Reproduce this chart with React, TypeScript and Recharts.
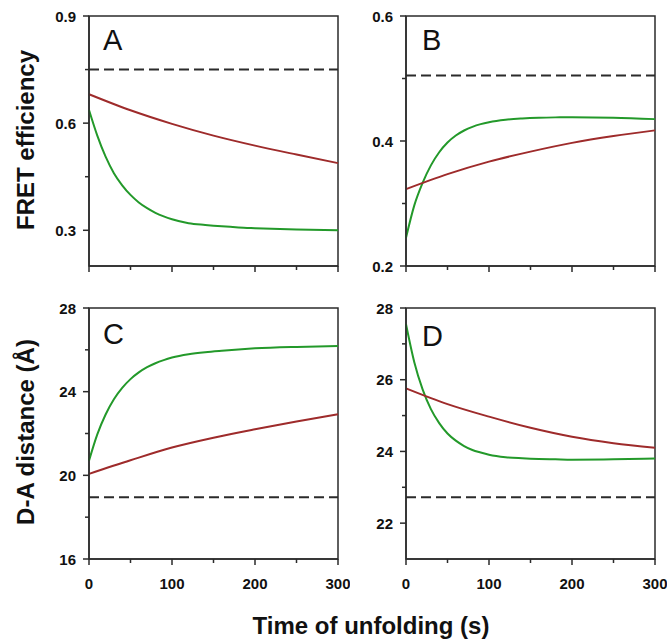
import React from 'react';
import { LineChart, Line, XAxis, YAxis, ReferenceLine, ReferenceArea } from 'recharts';

// sample times (s)
const fastTimes = [0, 10, 20, 30, 40, 50, 60, 70, 80, 90, 100, 120, 140, 160, 180, 200, 250, 300];
const slowTimes = [0, 50, 100, 150, 200, 250, 300];

// A: FRET efficiency
const greenA = [0.637, 0.565, 0.506, 0.46, 0.426, 0.399, 0.378, 0.362, 0.349, 0.339, 0.331, 0.32, 0.315, 0.311, 0.308, 0.306, 0.302, 0.3];
const redA = [0.681, 0.636, 0.598, 0.565, 0.537, 0.512, 0.488];
const dashA = 0.75;

// B: FRET efficiency
const greenB = [0.245, 0.297, 0.333, 0.361, 0.382, 0.3975, 0.4087, 0.4168, 0.4227, 0.427, 0.4301, 0.434, 0.436, 0.4372, 0.4378, 0.438, 0.4373, 0.435];
const redB = [0.323, 0.347, 0.367, 0.383, 0.397, 0.408, 0.417];
const dashB = 0.505;

// C: D-A distance
const greenC = [20.7, 21.96, 22.91, 23.64, 24.18, 24.6, 24.92, 25.17, 25.36, 25.51, 25.63, 25.79, 25.89, 25.96, 26.02, 26.07, 26.14, 26.18];
const redC = [20.07, 20.72, 21.33, 21.8, 22.2, 22.57, 22.92];
const dashC = 18.95;

// D: D-A distance
const greenD = [27.55, 26.49, 25.73, 25.18, 24.79, 24.5, 24.3, 24.15, 24.04, 23.97, 23.91, 23.84, 23.81, 23.79, 23.78, 23.77, 23.78, 23.8];
const redD = [25.76, 25.32, 24.97, 24.66, 24.41, 24.23, 24.1];
const dashD = 22.72;

const timeTicks = [0, 50, 100, 150, 200, 250, 300];
const timeLabels = [0, 100, 200, 300];

const ticksA = [0.3, 0.45, 0.6, 0.75, 0.9];
const labelsA = [0.3, 0.6, 0.9];
const ticksB = [0.2, 0.3, 0.4, 0.5, 0.6];
const labelsB = [0.2, 0.4, 0.6];
const ticksC = [16, 18, 20, 22, 24, 26, 28];
const labelsC = [16, 20, 24, 28];
const ticksD = [22, 23, 24, 25, 26, 27, 28];
const labelsD = [22, 24, 26, 28];

const FONT = '"Liberation Sans", Arial, sans-serif';
const AXIS = '#2b2b2b';
const GREEN = '#23992a';
const RED = '#9e2b2b';

const toPoints = (times: number[], values: number[]) => times.map((t, i) => ({ t, v: values[i] }));

function TimeTick(props: any) {
  const { x, y, payload, show } = props;
  const major = timeLabels.includes(payload.value);
  return (
    <g>
      <line x1={x} y1={y} x2={x} y2={y + (major ? 6 : 4)} stroke={AXIS} strokeWidth={1.5} />
      {show && major && (
        <text x={x} y={y + 30} textAnchor="middle" fontSize={15} fontWeight="bold" fontFamily={FONT} fill="#111">
          {payload.value}
        </text>
      )}
    </g>
  );
}

function ValueTick(props: any) {
  const { x, y, payload, labels, digits } = props;
  const major = labels.some((l: number) => Math.abs(l - payload.value) < 1e-9);
  return (
    <g>
      <line x1={x - (major ? 6 : 4)} y1={y} x2={x} y2={y} stroke={AXIS} strokeWidth={1.5} />
      {major && (
        <text x={x - 13} y={y + 5.5} textAnchor="end" fontSize={15} fontWeight="bold" fontFamily={FONT} fill="#111">
          {payload.value.toFixed(digits)}
        </text>
      )}
    </g>
  );
}

interface PanelProps {
  left: number;
  top: number;
  plotHeight: number;
  domain: [number, number];
  ticks: number[];
  labels: number[];
  digits: number;
  green: number[];
  red: number[];
  dash: number;
  showTimeLabels: boolean;
}

function Panel({ left, top, plotHeight, domain, ticks, labels, digits, green, red, dash, showTimeLabels }: PanelProps) {
  const xAxisHeight = 36;
  return (
    <div style={{ position: 'absolute', left, top }}>
      <LineChart width={350} height={16 + plotHeight + xAxisHeight} margin={{ top: 16, right: 12, bottom: 0, left: 0 }}>
        <XAxis
          dataKey="t"
          type="number"
          domain={[0, 300]}
          ticks={timeTicks}
          height={xAxisHeight}
          tickSize={0}
          tickMargin={0}
          tickLine={false}
          axisLine={{ stroke: AXIS, strokeWidth: 1.5 }}
          tick={(p: any) => <TimeTick {...p} show={showTimeLabels} />}
          interval={0}
        />
        <YAxis
          type="number"
          domain={domain}
          ticks={ticks}
          width={89}
          tickSize={0}
          tickMargin={0}
          tickLine={false}
          axisLine={{ stroke: AXIS, strokeWidth: 1.5 }}
          tick={(p: any) => <ValueTick {...p} labels={labels} digits={digits} />}
          interval={0}
          allowDataOverflow
        />
        <ReferenceArea x1={0} x2={300} y1={domain[0]} y2={domain[1]} fill="none" stroke={AXIS} strokeWidth={1.5} ifOverflow="visible" />
        <ReferenceLine y={dash} stroke={AXIS} strokeWidth={2} strokeDasharray="10 5" />
        <Line data={toPoints(fastTimes, green)} dataKey="v" type="monotone" stroke={GREEN} strokeWidth={2} dot={false} isAnimationActive={false} />
        <Line data={toPoints(slowTimes, red)} dataKey="v" type="monotone" stroke={RED} strokeWidth={2} dot={false} isAnimationActive={false} />
      </LineChart>
    </div>
  );
}

export default function App() {
  return (
    <div style={{ position: 'absolute', left: 0, top: 0, width: 670, height: 639, background: '#fff', overflow: 'hidden' }}>
      <Panel left={0} top={0} plotHeight={250} domain={[0.2, 0.9]} ticks={ticksA} labels={labelsA} digits={1} green={greenA} red={redA} dash={dashA} showTimeLabels={false} />
      <Panel left={317} top={0} plotHeight={250} domain={[0.2, 0.6]} ticks={ticksB} labels={labelsB} digits={1} green={greenB} red={redB} dash={dashB} showTimeLabels={false} />
      <Panel left={0} top={292} plotHeight={251} domain={[16, 28]} ticks={ticksC} labels={labelsC} digits={0} green={greenC} red={redC} dash={dashC} showTimeLabels />
      <Panel left={317} top={292} plotHeight={251} domain={[21, 28]} ticks={ticksD} labels={labelsD} digits={0} green={greenD} red={redD} dash={dashD} showTimeLabels />
      <svg width={670} height={639} style={{ position: 'absolute', left: 0, top: 0, pointerEvents: 'none' }}>
        <g fontFamily={FONT} fill="#111">
          <text x={103} y={50} fontSize={29}>A</text>
          <text x={422} y={50} fontSize={29}>B</text>
          <text x={103} y={344} fontSize={29}>C</text>
          <text x={422} y={346} fontSize={29}>D</text>
          <text x={34} y={140} fontSize={24} fontWeight="bold" textAnchor="middle" transform="rotate(-90 34 140)">FRET efficiency</text>
          <text x={34} y={432} fontSize={24} fontWeight="bold" textAnchor="middle" transform="rotate(-90 34 432)">D-A distance (Å)</text>
          <text x={371} y={634} fontSize={24} fontWeight="bold" textAnchor="middle">Time of unfolding (s)</text>
        </g>
      </svg>
    </div>
  );
}
